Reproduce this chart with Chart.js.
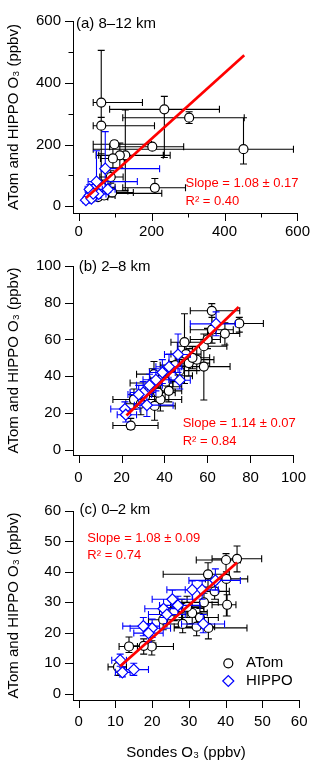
<!DOCTYPE html>
<html>
<head>
<meta charset="utf-8">
<script src="https://cdn.jsdelivr.net/npm/chart.js@4"></script>
<style>
  body { margin: 0; background: #fff; }
  #wrap { position: relative; width: 320px; height: 766px; }
  canvas { position: absolute; left: 0; }
</style>
</head>
<body>
<div id="wrap">
  <canvas id="panelA" width="320" height="245" style="top:0px"></canvas>
  <canvas id="panelB" width="320" height="245" style="top:245px"></canvas>
  <canvas id="panelC" width="320" height="276" style="top:490px"></canvas>
</div>
<script>
//DATA, ONE ROW PER POINT: [sonde, aircraft, sondeLow, sondeHigh, aircraftLow, aircraftHigh]
//PANEL (a) 8-12 km
const atomA = [
  [62, 336, 40, 175, 170, 505],
  [62, 261, 40, 208, 30, 288],
  [235, 314, 85, 386, 158, 356],
  [303, 287, 121, 454, 268, 306],
  [452, 185, 40, 589, 137, 287],
  [98, 201, 40, 200, 185, 212],
  [202, 193, 85, 288, 186, 200],
  [128, 165, 48, 251, 52, 312],
  [113, 165, 55, 232, 125, 205],
  [94, 155, 60, 125, 125, 185],
  [209, 60, 121, 293, 50, 90],
  [74, 42, 35, 228, 28, 58],
  [53, 30, 35, 80, 20, 45],
  [80, 50, 55, 135, 35, 70],
  [65, 62, 45, 100, 45, 85],
  [45, 45, 30, 70, 30, 60],
  [92, 45, 60, 150, 30, 62],
  [70, 35, 50, 100, 22, 50],
  [40, 52, 25, 62, 40, 68],
  [88, 95, 58, 122, 75, 115]
];
const hippoA = [
  [73, 122, 62, 222, 40, 242],
  [49, 80, 26, 161, 30, 180],
  [20, 20, 12, 30, 12, 30],
  [30, 35, 20, 45, 25, 50],
  [40, 55, 25, 65, 40, 70],
  [55, 40, 40, 75, 28, 55],
  [35, 25, 25, 50, 15, 35],
  [30, 55, 18, 45, 40, 70],
  [80, 55, 65, 100, 45, 70],
  [40, 41, 28, 55, 30, 52]
];
const fitA = [[20, 27], [454, 489]];
const ticksA = [0, 100, 200, 300, 400, 500, 600];
const labeledA = [0, 200, 400, 600];

//PANEL (b) 2-8 km
const atomB = [
  [62, 75.6, 52, 75, 66, 79.5],
  [74.8, 68.7, 64, 86, 64, 72],
  [68.1, 63.2, 60, 75, 57, 69],
  [62.1, 65.3, 52, 72, 58, 72],
  [58.3, 56.3, 46, 69, 50, 63],
  [49.3, 58.5, 43, 57, 36, 74],
  [58.3, 45.2, 45, 70.5, 27, 60],
  [51.3, 47.1, 42, 61, 40, 55],
  [55, 49, 47, 63, 43, 56],
  [43.8, 40.2, 35, 53, 33, 48],
  [35.1, 41.1, 27, 44, 34, 48],
  [34.3, 36.3, 24, 44, 29, 44],
  [40.3, 34.2, 32, 48, 27, 41],
  [38.1, 27.3, 24, 48, 21, 34],
  [35.4, 23.8, 26, 45, 16, 31],
  [25.8, 27.3, 16, 37, 22, 33],
  [24.3, 13.1, 16, 37, 11, 17],
  [45, 46, 38, 52, 40, 52],
  [40.5, 37, 33, 48, 31, 43],
  [37, 31, 29, 45, 25, 37],
  [53, 50, 45, 61, 44, 56],
  [47, 43, 40, 55, 37, 49],
  [31, 29, 24, 38, 23, 35],
  [50, 52, 43, 57, 46, 58],
  [42, 32, 36, 48, 26, 38],
  [29, 25, 22, 36, 19, 31],
  [60, 60, 52, 66, 55, 66]
];
const hippoB = [
  [64, 68.5, 52, 73, 62, 75],
  [46.3, 51.8, 40, 52, 42, 63],
  [42.1, 45.1, 36, 48, 38, 52],
  [47.1, 37.8, 43, 52, 33, 44],
  [30.1, 31.1, 24, 36, 25, 37],
  [31.8, 24.2, 26, 44, 18, 30],
  [21.6, 22.1, 15, 28.6, 18, 26],
  [22, 19, 18, 27, 15, 23],
  [36, 38, 30, 42, 32, 44],
  [39, 42, 33, 45, 36, 49],
  [33, 35, 27, 39, 30, 41],
  [28, 30, 23, 34, 25, 35]
];
const fitB = [[22.3, 18.6], [74.5, 77.7]];
const ticksB = [0, 20, 40, 60, 80, 100];

//PANEL (c) 0-2 km
const atomC = [
  [43.1, 44.3, 36.3, 49.8, 40, 48.5],
  [40.1, 43.9, 32, 44, 38, 46],
  [35.2, 39.2, 23, 41, 35, 43],
  [40.2, 37.7, 34.5, 46, 25.5, 40],
  [37, 33.6, 33, 41, 31, 36],
  [40.4, 29.2, 36.3, 42.8, 25.5, 32.5],
  [34.1, 30, 27, 38, 27, 33],
  [28.1, 28.2, 23, 33, 25, 31],
  [30.9, 26.5, 25, 35, 23, 30],
  [23, 24.3, 19, 28, 21, 28],
  [32.1, 22, 26, 37, 19, 25],
  [35.3, 21.6, 26, 45.8, 18, 25],
  [19.9, 15.5, 16, 25.8, 12.7, 17.4],
  [13.7, 15.5, 11, 16, 13.5, 18.6],
  [17.7, 15.7, 14, 21, 13, 18],
  [10.7, 8.8, 8, 13, 6, 11],
  [28.3, 22.9, 24, 34, 20, 26],
  [26, 27, 22, 31, 24, 30],
  [29.5, 28.5, 25, 34, 25, 32],
  [33, 25, 28, 38, 22, 28]
];
const hippoC = [
  [37.2, 37.2, 30, 44, 34, 41],
  [30.9, 34.1, 24, 34, 31, 37],
  [33.6, 34.1, 29, 38, 31, 37],
  [25.5, 31, 20, 31, 28, 34],
  [23.1, 27.9, 18, 28, 25, 31],
  [33.9, 22.9, 28, 39.7, 20, 26],
  [20, 21.5, 14, 25, 18.5, 24.5],
  [17.6, 22.2, 12, 22, 19, 25],
  [19, 19.9, 15, 23, 17, 23],
  [11.3, 11, 9, 13, 9, 13],
  [11.9, 7, 10, 14, 5.5, 8.5],
  [15, 7.9, 12.5, 19, 6, 10],
  [27, 29, 22, 33, 26, 32],
  [24, 26, 19, 29, 23, 29]
];
const fitC = [[11.3, 9.0], [43.1, 43.1]];
const ticksC = [0, 10, 20, 30, 40, 50, 60];

//TEXTS
const yTitle = 'ATom and HIPPO O\u2083 (ppbv)';
const xTitle = 'Sondes O\u2083 (ppbv)';
const seriesNames = ['ATom', 'HIPPO'];

const FONT = '"Liberation Sans", Arial, sans-serif';
const BLUE = '#0000ff';
const RED = '#ff0000';

Chart.defaults.font.family = FONT;
Chart.defaults.font.size = 15;
Chart.defaults.color = '#000';

//ERROR BARS, DRAWN JUST BEFORE THEIR OWN SERIES
const errorBars = {
  id: 'errorBars',
  beforeDatasetDraw(chart, args) {
    const ds = chart.data.datasets[args.index];
    if (!ds.errors) return;
    const { ctx, chartArea: a, scales: { x, y } } = chart;
    const cap = 3.5;
    ctx.save();
    ctx.beginPath();
    ctx.rect(a.left, a.top, a.right - a.left, a.bottom - a.top);
    ctx.clip();
    ctx.strokeStyle = ds.pointBorderColor;
    ctx.lineWidth = 1.1;
    ctx.beginPath();
    ds.errors.forEach(r => {
      const px = x.getPixelForValue(r[0]);
      const py = y.getPixelForValue(r[1]);
      const x0 = x.getPixelForValue(r[2]);
      const x1 = x.getPixelForValue(r[3]);
      const y0 = y.getPixelForValue(r[4]);
      const y1 = y.getPixelForValue(r[5]);
      ctx.moveTo(x0, py); ctx.lineTo(x1, py);
      ctx.moveTo(x0, py - cap); ctx.lineTo(x0, py + cap);
      ctx.moveTo(x1, py - cap); ctx.lineTo(x1, py + cap);
      ctx.moveTo(px, y0); ctx.lineTo(px, y1);
      ctx.moveTo(px - cap, y0); ctx.lineTo(px + cap, y0);
      ctx.moveTo(px - cap, y1); ctx.lineTo(px + cap, y1);
    });
    ctx.stroke();
    ctx.restore();
  }
};

//OUTWARD TICK MARKS, SHORTER WHEN UNLABELED
const tickMarks = {
  id: 'tickMarks',
  afterDraw(chart) {
    const { ctx, chartArea: a, scales: { x, y } } = chart;
    ctx.save();
    ctx.strokeStyle = '#000';
    ctx.lineWidth = 1;
    ctx.beginPath();
    x.ticks.forEach(t => {
      const len = t.label ? 8 : 4.5;
      const px = Math.round(x.getPixelForValue(t.value)) + 0.5;
      ctx.moveTo(px, a.bottom); ctx.lineTo(px, a.bottom + len);
    });
    y.ticks.forEach(t => {
      const len = t.label ? 8 : 4.5;
      const py = Math.round(y.getPixelForValue(t.value)) + 0.5;
      ctx.moveTo(a.left, py); ctx.lineTo(a.left - len, py);
    });
    ctx.stroke();
    ctx.restore();
  }
};

//PANEL NAME, FIT RESULT AND (LAST PANEL) LEGEND
function notesPlugin(p) {
  return {
    id: 'notes',
    afterDraw(chart) {
      const ctx = chart.ctx;
      ctx.save();
      ctx.textBaseline = 'middle';
      ctx.textAlign = 'left';
      ctx.fillStyle = '#000';
      ctx.font = '15px ' + FONT;
      ctx.fillText(p.name, p.nameAt[0], p.nameAt[1]);
      ctx.fillStyle = RED;
      ctx.font = '13px ' + FONT;
      ctx.fillText(p.slope, p.fitAt[0], p.fitAt[1]);
      ctx.fillText(p.r2, p.fitAt[0], p.fitAt[1] + p.fitGap);
      if (p.legend) {
        const [lx, ly] = p.legend;
        ctx.lineWidth = 1.2;
        ctx.fillStyle = '#fff';
        ctx.strokeStyle = '#000';
        ctx.beginPath();
        ctx.arc(lx, ly, 4.5, 0, Math.PI * 2);
        ctx.fill(); ctx.stroke();
        ctx.strokeStyle = BLUE;
        ctx.beginPath();
        ctx.moveTo(lx - 5.5, ly + 17.7);
        ctx.lineTo(lx, ly + 12.2);
        ctx.lineTo(lx + 5.5, ly + 17.7);
        ctx.lineTo(lx, ly + 23.2);
        ctx.closePath();
        ctx.fill(); ctx.stroke();
        ctx.fillStyle = '#000';
        ctx.font = '15px ' + FONT;
        ctx.fillText(seriesNames[0], lx + 17.7, ly);
        ctx.fillText(seriesNames[1], lx + 17.7, ly + 17.7);
      }
      ctx.restore();
    }
  };
}

function toPoints(rows) {
  return rows.map(r => ({ x: r[0], y: r[1] }));
}

function buildPanel(id, p) {
  new Chart(document.getElementById(id), {
    type: 'scatter',
    data: {
      datasets: [
        {
          label: 'fit',
          data: toPoints(p.fit),
          showLine: true,
          borderColor: RED,
          borderWidth: 2.7,
          pointRadius: 0
        },
        {
          label: seriesNames[1],
          data: toPoints(p.hippo),
          errors: p.hippo,
          pointStyle: 'rectRot',
          pointRadius: 5.5,
          pointBorderWidth: 1.2,
          pointBorderColor: BLUE,
          pointBackgroundColor: '#fff'
        },
        {
          label: seriesNames[0],
          data: toPoints(p.atom),
          errors: p.atom,
          pointStyle: 'circle',
          pointRadius: 4.5,
          pointBorderWidth: 1.2,
          pointBorderColor: '#000',
          pointBackgroundColor: '#fff'
        }
      ]
    },
    options: {
      responsive: false,
      animation: false,
      events: [],
      layout: { padding: { top: p.top, right: 19, bottom: 0, left: 0 } },
      plugins: { legend: { display: false }, tooltip: { enabled: false } },
      scales: {
        x: {
          type: 'linear',
          min: p.xMin,
          max: p.ticks[p.ticks.length - 1],
          afterBuildTicks: s => { s.ticks = p.ticks.map(v => ({ value: v })); },
          afterFit: s => { s.height = p.xHeight; },
          grid: { display: false, drawTicks: false },
          border: { display: true, color: '#000', width: 1 },
          ticks: {
            padding: p.xPad,
            autoSkip: false,
            maxRotation: 0,
            callback: v => p.labeled.includes(v) ? String(v) : ''
          },
          title: {
            display: !!p.xTitle,
            text: p.xTitle || '',
            padding: { top: 0, bottom: 4 }
          }
        },
        y: {
          type: 'linear',
          min: p.yMin,
          max: p.ticks[p.ticks.length - 1],
          afterBuildTicks: s => { s.ticks = p.ticks.map(v => ({ value: v })); },
          afterFit: s => { s.width = 73; },
          grid: { display: false, drawTicks: false },
          border: { display: true, color: '#000', width: 1 },
          ticks: {
            padding: 12,
            autoSkip: false,
            callback: v => p.labeled.includes(v) ? String(v) : ''
          },
          title: {
            display: true,
            text: yTitle,
            padding: { top: 4.5, bottom: 0 }
          }
        }
      }
    },
    plugins: [errorBars, tickMarks, notesPlugin(p)]
  });
}

document.addEventListener('DOMContentLoaded', () => {
  buildPanel('panelA', {
    atom: atomA, hippo: hippoA, fit: fitA,
    ticks: ticksA, labeled: labeledA,
    xMin: -15.4, yMin: -21.6,
    top: 12, xHeight: 32, xPad: 10,
    name: '(a) 8\u201312 km', nameAt: [76, 24],
    slope: 'Slope = 1.08 \u00b1 0.17', r2: 'R\u00b2 = 0.40',
    fitAt: [185.5, 183], fitGap: 18
  });
  buildPanel('panelB', {
    atom: atomB, hippo: hippoB, fit: fitB,
    ticks: ticksB, labeled: ticksB,
    xMin: -2.56, yMin: -2.95,
    top: 11, xHeight: 35, xPad: 14,
    name: '(b) 2\u20138 km', nameAt: [78.7, 21.7],
    slope: 'Slope = 1.14 \u00b1 0.07', r2: 'R\u00b2 = 0.84',
    fitAt: [182.7, 178.3], fitGap: 18.4
  });
  buildPanel('panelC', {
    atom: atomC, hippo: hippoC, fit: fitC,
    ticks: ticksC, labeled: ticksC,
    xMin: -1.54, yMin: -2.08,
    top: 10, xHeight: 66, xPad: 12.5,
    xTitle: xTitle,
    name: '(c) 0\u20132 km', nameAt: [79.5, 20],
    slope: 'Slope = 1.08 \u00b1 0.09', r2: 'R\u00b2 = 0.74',
    fitAt: [87.3, 48.3], fitGap: 16.7,
    legend: [228.3, 173.3]
  });
});
</script>
</body>
</html>
